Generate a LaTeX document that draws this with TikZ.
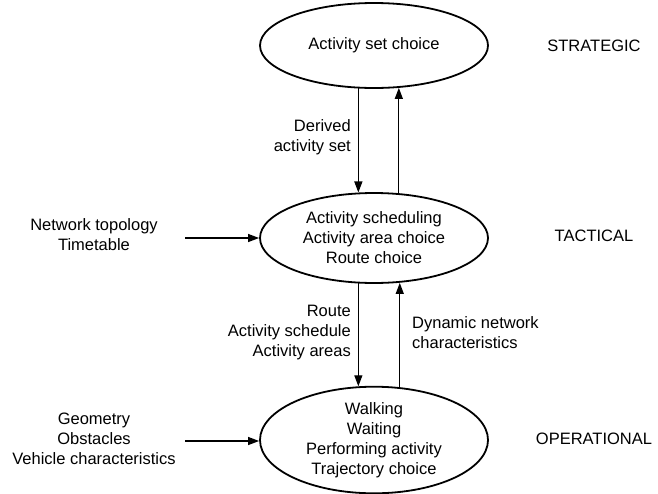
\documentclass[tikz,border=0pt]{standalone}
\usepackage{fontspec}
\setmainfont{Liberation Sans}
\usetikzlibrary{shapes.geometric,arrows.meta}
\begin{document}
\begin{tikzpicture}[x=1pt,y=-1pt,
  level/.style={ellipse,draw,line width=1.8pt,inner sep=0pt,minimum width=228pt,align=center,font=\fontsize{16.5}{20}\selectfont},
  txt/.style={inner sep=0pt,font=\fontsize{16.5}{20}\selectfont},
  flow/.style={line width=1.2pt,-{Triangle[length=11pt,width=8pt]}}]
\useasboundingbox (0,0) rectangle (658,493);
% the three planning levels
\node[level,minimum height=85pt] (strat) at (374,45.5) {Activity set choice};
\node[level,minimum height=90pt] (tact) at (374,238) {Activity scheduling\\Activity area choice\\Route choice};
\node[level,minimum height=102pt] (oper) at (374,440) {Walking\\Waiting\\Performing activity\\Trajectory choice};
% level names
\node[txt] (sname) at (594,46) {STRATEGIC};
\node[txt] (tname) at (594,236) {TACTICAL};
\node[txt] (oname) at (594,439) {OPERATIONAL};
% exogenous inputs
\node[txt,align=center] (netin) at (94,235) {Network topology\\Timetable};
\node[txt,align=center] (geoin) at (94,439) {Geometry\\Obstacles\\Vehicle characteristics};
\coordinate (netstart) at (185,238);
\coordinate (geostart) at (185,441);
\draw[flow] (netstart) -- (tact.west);
\draw[flow] (geostart) -- (oper.west |- geostart);
% strategic <-> tactical
\draw[flow] (strat.250.4) -- (strat.250.4 |- tact.108.6);
\draw[flow] (tact.61.4) -- (tact.61.4 |- strat.300);
% tactical <-> operational
\draw[flow] (tact.251.4) -- (tact.251.4 |- oper.106.5);
\draw[flow] (oper.64.3) -- (oper.64.3 |- tact.298.6);
% flow labels
\node[txt,align=right,anchor=east] (derived) at (351,137) {Derived\\activity set};
\node[txt,align=right,anchor=east] (sched) at (351,333) {Route\\Activity schedule\\Activity areas};
\node[txt,align=left,anchor=west] (dyn) at (412,333) {Dynamic network\\characteristics};
\end{tikzpicture}
\end{document}
